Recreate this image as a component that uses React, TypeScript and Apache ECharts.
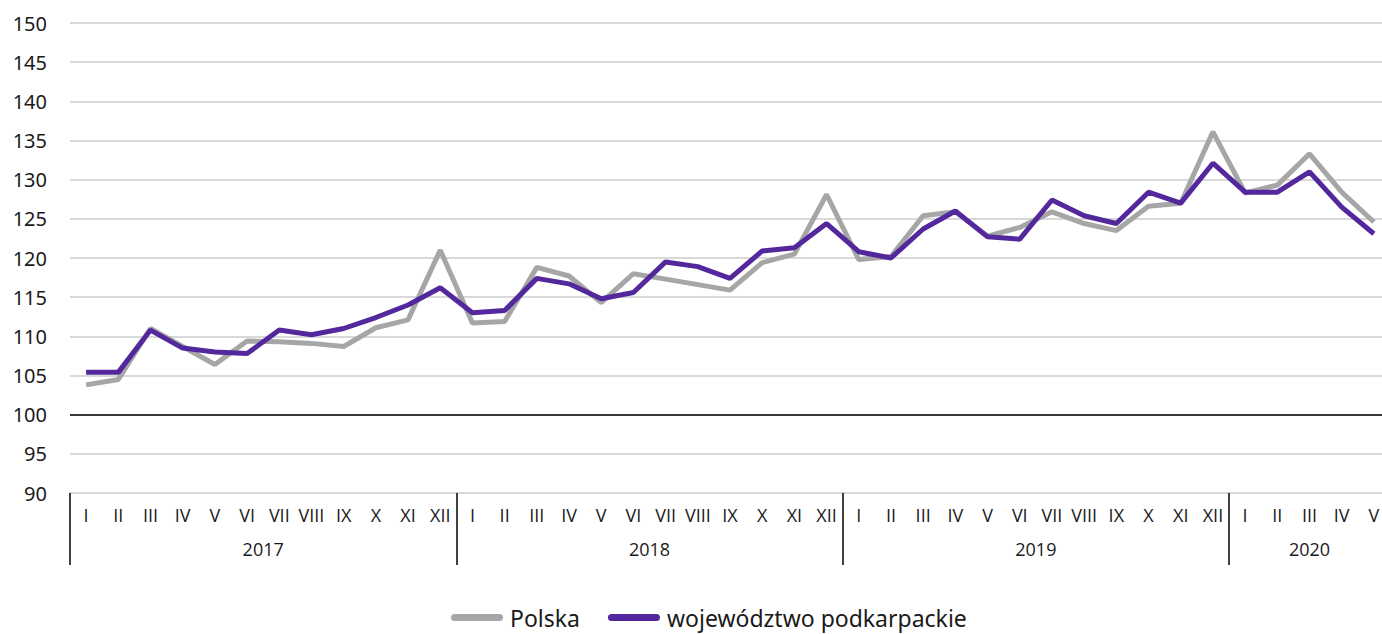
import React, { useEffect, useRef } from "react";
import * as echarts from "echarts";

const romanMonths = ["I", "II", "III", "IV", "V", "VI", "VII", "VIII", "IX", "X", "XI", "XII"];
const years = ["2017", "2018", "2019", "2020"];
const monthsPerYear = [12, 12, 12, 5];

const polska = [
  103.8, 104.5, 111.0, 108.7, 106.4, 109.4, 109.3, 109.1, 108.7, 111.1, 112.1, 121.0,
  111.7, 111.9, 118.8, 117.7, 114.3, 118.0, 117.3, 116.6, 115.9, 119.4, 120.5, 128.1,
  119.8, 120.2, 125.4, 125.9, 122.8, 123.9, 125.9, 124.4, 123.5, 126.6, 127.0, 136.1,
  128.3, 129.3, 133.3, 128.4, 124.6,
];

const podkarpackie = [
  105.4, 105.4, 110.8, 108.5, 108.0, 107.8, 110.8, 110.2, 111.0, 112.4, 114.0, 116.2,
  113.0, 113.3, 117.4, 116.7, 114.8, 115.6, 119.5, 118.9, 117.4, 120.9, 121.3, 124.4,
  120.8, 120.0, 123.7, 126.0, 122.7, 122.4, 127.4, 125.4, 124.4, 128.4, 127.0, 132.1,
  128.4, 128.4, 131.0, 126.5, 123.1,
];

const yMin = 90;
const yMax = 150;
const yStep = 5;
const baseline = 100;

const seriesNames = ["Polska", "województwo podkarpackie"];
const seriesColors = ["#a6a6a6", "#53289c"];

export default function App() {
  const ref = useRef<HTMLDivElement>(null);

  useEffect(() => {
    if (!ref.current) return;
    const chart = echarts.init(ref.current, null, { renderer: "svg" });

    const monthLabels: string[] = [];
    const boundaries: number[] = [];
    const centers: number[] = [];
    let start = 0;
    monthsPerYear.forEach((n) => {
      boundaries.push(start);
      centers.push(start + n / 2);
      for (let i = 0; i < n; i++) monthLabels.push(romanMonths[i]);
      start += n;
    });
    const total = start;

    const fontFamily = "'Open Sans', 'Noto Sans', sans-serif";
    const textColor = "#1a1a1a";

    const icon = "path://M3.5,0 H48.5 A3.5,3.5 0 0 1 48.5,7 H3.5 A3.5,3.5 0 0 1 3.5,0 Z";

    chart.setOption({
      animation: false,
      backgroundColor: "#ffffff",
      grid: { left: 70, right: 0, top: 23, bottom: 141, containLabel: false },
      legend: {
        bottom: 0,
        left: 446,
        itemWidth: 52,
        itemHeight: 7,
        itemGap: 28,
        icon,
        textStyle: { fontSize: 23, color: textColor, fontFamily: "'Noto Sans', sans-serif", padding: [0, 0, 0, 2] },
        data: seriesNames.map((n) => ({ name: n, icon })),
      },
      xAxis: [
        {
          type: "category",
          data: monthLabels,
          boundaryGap: true,
          axisLine: { show: true, lineStyle: { color: "#d9d9d9", width: 2 } },
          axisTick: { show: false },
          axisLabel: {
            interval: 0,
            fontSize: 18,
            color: textColor,
            fontFamily,
            margin: 13,
          },
          splitLine: { show: false },
        },
        {
          type: "value",
          min: 0,
          max: total,
          position: "bottom",
          axisLine: { show: false },
          splitLine: { show: false },
          axisTick: {
            show: true,
            customValues: boundaries,
            length: 72,
            lineStyle: { color: "#000000", width: 1.5 },
          },
          axisLabel: {
            customValues: centers,
            formatter: (v: number) => {
              const idx = centers.findIndex((c) => Math.abs(c - v) < 1e-6);
              return idx >= 0 ? years[idx] : "";
            },
            fontSize: 18,
            color: textColor,
            fontFamily,
            margin: 47,
          },
        },
      ],
      yAxis: {
        type: "value",
        min: yMin,
        max: yMax,
        interval: yStep,
        axisLine: { show: false },
        axisTick: { show: false },
        axisLabel: { fontSize: 20, color: textColor, fontFamily: "'Noto Sans', sans-serif", margin: 23 },
        splitLine: { show: true, lineStyle: { color: "#d9d9d9", width: 2 } },
      },
      series: [
        {
          name: seriesNames[0],
          type: "line",
          data: polska,
          symbol: "none",
          lineStyle: { color: seriesColors[0], width: 5 },
          itemStyle: { color: seriesColors[0] },
          z: 2,
          markLine: {
            silent: true,
            symbol: "none",
            label: { show: false },
            lineStyle: { color: "#000000", width: 1.5, type: "solid" },
            data: [{ yAxis: baseline }],
            z: 1,
          },
        },
        {
          name: seriesNames[1],
          type: "line",
          data: podkarpackie,
          symbol: "none",
          lineStyle: { color: seriesColors[1], width: 5 },
          itemStyle: { color: seriesColors[1] },
          z: 3,
        },
      ],
    });

    return () => chart.dispose();
  }, []);

  return (
    <div
      style={{ position: "absolute", left: 0, top: 0, width: 1382, height: 634, overflow: "hidden" }}
    >
      <div ref={ref} style={{ width: 1390, height: 634 }} />
    </div>
  );
}
